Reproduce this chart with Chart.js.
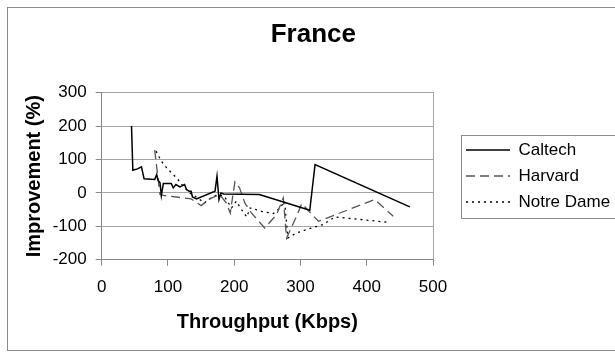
<!DOCTYPE html>
<html>
<head>
<meta charset="utf-8">
<title>France</title>
<script src="https://cdn.jsdelivr.net/npm/chart.js@4.4.0/dist/chart.umd.min.js"></script>
<style>
  html, body { margin: 0; padding: 0; background: #fff; }
</style>
</head>
<body>
<canvas id="chart" width="615" height="352"></canvas>
<script>
// throughput (Kbps) vs improvement (%)
const caltechX = [45, 47, 54, 60, 64, 80, 83, 85, 88, 90, 93, 105, 108, 112, 118, 125, 128, 132, 135, 137, 143, 171, 174, 177, 180, 184, 238, 314, 322, 465];
const caltechY = [200, 68, 72, 78, 42, 40, 55, 38, 30, -8, 28, 28, 15, 25, 18, 25, 10, 5, 5, -12, -18, 5, 50, -20, 0, -3, -5, -52, 85, -42];

const harvardX = [80, 87, 88, 95, 123, 135, 150, 163, 178, 188, 194, 201, 208, 216, 226, 246, 264, 274, 279, 294, 302, 327, 412, 440];
const harvardY = [128, 10, -5, -8, -15, -18, -38, -18, -5, -30, -60, 33, 15, -30, -60, -105, -65, -15, -135, -70, -32, -85, -20, -70];

const notreDameX = [82, 90, 98, 108, 115, 121, 133, 141, 155, 165, 175, 185, 196, 203, 211, 219, 224, 241, 259, 269, 276, 281, 294, 317, 334, 352, 432];
const notreDameY = [125, 95, 75, 55, 40, 25, 0, -10, -30, -15, -5, -10, -45, -25, -50, -72, -45, -55, -62, -45, -25, -135, -120, -105, -95, -72, -88];

const seriesNames = ['Caltech', 'Harvard', 'Notre Dame'];
const xTicks = [0, 100, 200, 300, 400, 500];
const yTicks = [-200, -100, 0, 100, 200, 300];

const FONT = "'Liberation Sans', Arial, sans-serif";
const toPoints = (xs, ys) => xs.map((x, i) => ({ x: x, y: ys[i] }));

// white background + outer frame, and the box around the legend
const framePlugin = {
    id: 'frame',
    beforeDraw(chart) {
        const ctx = chart.ctx;
        ctx.save();
        ctx.fillStyle = '#fff';
        ctx.fillRect(0, 0, chart.width, chart.height);
        ctx.strokeStyle = '#8c8c8c';
        ctx.lineWidth = 1;
        ctx.strokeRect(7.5, 7.5, chart.width + 10, chart.height - 9);
        ctx.restore();
    },
    afterDraw(chart) {
        const boxes = chart.legend && chart.legend.legendHitBoxes;
        if (!boxes || !boxes.length) return;
        const last = boxes[boxes.length - 1];
        const top = Math.round(boxes[0].top - 7) + 0.5;
        const bottom = Math.round(last.top + last.height + 7) + 0.5;
        const left = Math.round(boxes[0].left - 5) + 0.5;
        const ctx = chart.ctx;
        ctx.save();
        ctx.strokeStyle = '#8c8c8c';
        ctx.lineWidth = 1;
        ctx.strokeRect(left, top, chart.width, bottom - top);
        ctx.restore();
    }
};

// legend samples should repeat each line's own dash pattern
function legendLabels(chart) {
    const items = Chart.defaults.plugins.legend.labels.generateLabels(chart);
    items.forEach(item => {
        const ds = chart.data.datasets[item.datasetIndex];
        item.lineDash = ds.borderDash || [];
        item.lineWidth = ds.borderWidth;
        item.strokeStyle = ds.borderColor;
    });
    return items;
}

new Chart(document.getElementById('chart'), {
    type: 'scatter',
    data: {
        datasets: [
            { label: seriesNames[0], data: toPoints(caltechX, caltechY), borderColor: '#000', backgroundColor: '#000', borderWidth: 1.5, showLine: true, pointRadius: 0 },
            { label: seriesNames[1], data: toPoints(harvardX, harvardY), borderColor: '#555', backgroundColor: '#555', borderWidth: 1.3, borderDash: [9, 5], showLine: true, pointRadius: 0 },
            { label: seriesNames[2], data: toPoints(notreDameX, notreDameY), borderColor: '#000', backgroundColor: '#000', borderWidth: 1.3, borderDash: [2, 4], showLine: true, pointRadius: 0 }
        ]
    },
    options: {
        responsive: false,
        animation: false,
        layout: { padding: { left: 11.6, right: 0, top: 0, bottom: 0 } },
        plugins: {
            tooltip: { enabled: false },
            title: {
                display: true, text: 'France', color: '#000',
                font: { family: FONT, size: 26, weight: 'bold' },
                padding: { top: 19.7, bottom: 41.8 }
            },
            legend: {
                position: 'right',
                maxWidth: 158,
                labels: {
                    color: '#000', font: { family: FONT, size: 17 },
                    usePointStyle: true, pointStyle: 'line', pointStyleWidth: 44, padding: 9,
                    generateLabels: legendLabels
                }
            }
        },
        scales: {
            x: {
                type: 'linear', position: 'bottom', min: 0, max: 500,
                afterBuildTicks: s => { s.ticks = xTicks.map(v => ({ value: v })); },
                ticks: { color: '#000', font: { family: FONT, size: 17 }, padding: 11 },
                grid: { drawOnChartArea: false, drawTicks: true, tickLength: 6, tickColor: '#888' },
                border: { color: '#888' },
                title: { display: true, text: 'Throughput (Kbps)', color: '#000', font: { family: FONT, size: 20, weight: 'bold' }, padding: { top: 0, bottom: 18 } },
                afterFit: s => { s.height = 92.3; }
            },
            y: {
                type: 'linear', position: 'left', min: -200, max: 300,
                afterBuildTicks: s => { s.ticks = yTicks.map(v => ({ value: v })); },
                ticks: { color: '#000', font: { family: FONT, size: 17 }, padding: 9 },
                grid: { color: '#a6a6a6', tickLength: 6, tickColor: '#888' },
                border: { color: '#888' },
                title: { display: true, text: 'Improvement (%)', color: '#000', font: { family: FONT, size: 20, weight: 'bold' }, padding: { top: 10.9 } },
                afterFit: s => { s.width = 90.1; }
            },
            gap: {
                type: 'linear', axis: 'y', position: 'right', display: true,
                ticks: { display: false },
                grid: { display: false },
                border: { display: true, color: '#a6a6a6' },
                afterFit: s => { s.width = 24; }
            }
        }
    },
    plugins: [framePlugin]
});
</script>
</body>
</html>
